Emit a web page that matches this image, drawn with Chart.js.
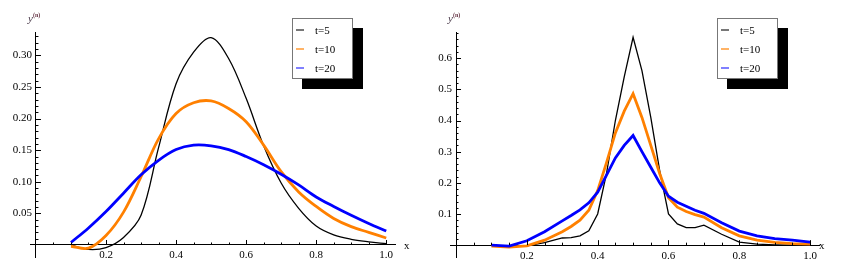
<!DOCTYPE html>
<html>
<head>
<meta charset="utf-8">
<script src="https://cdn.jsdelivr.net/npm/chart.js@4.4.0/dist/chart.umd.min.js"></script>
<style>
  body { margin: 0; background: #fff; width: 845px; height: 268px; overflow: hidden; position: relative;
         font-family: "Liberation Serif", "Times New Roman", serif; }
  .panel { position: absolute; top: 0; height: 268px; }
  .lab { position: absolute; font-size: 11px; line-height: 1; color: #000; white-space: nowrap; }
  .ylab { position: absolute; font-size: 11px; font-style: italic; color: #443344; line-height: 1; }
  .ylab sup { font-size: 6px; font-weight: bold; font-style: normal; vertical-align: 5px; color: #663344; }
  .legend { position: absolute; box-sizing: border-box; width: 61px; height: 61px; background: #fff;
            border: 1px solid #777; box-shadow: 10px 10px 0 #000; }
  .item { position: absolute; left: 0; font-size: 11px; line-height: 1; }
  .item i { position: absolute; left: 3px; top: 4px; width: 8px; height: 2px; }
  .item span { position: absolute; left: 22px; top: 0; white-space: nowrap; }
</style>
</head>
<body>
<div class="panel" style="left:0;width:420px"><canvas id="left" width="420" height="268"></canvas></div>
<div class="panel" style="left:420px;width:425px"><canvas id="right" width="425" height="268"></canvas></div>

<div class="ylab" style="left:28px;top:12px">y<sup>(n)</sup></div>
<div class="ylab" style="left:448px;top:12px">y<sup>(n)</sup></div>
<div class="lab" style="left:404px;top:240px">x</div>
<div class="lab" style="left:819px;top:240px">x</div>

<div class="legend" style="left:292px;top:18px">
  <div class="item" style="top:6px"><i style="background:#777"></i><span>t=5</span></div>
  <div class="item" style="top:25px"><i style="background:#ffb366"></i><span>t=10</span></div>
  <div class="item" style="top:44px"><i style="background:#8080ff"></i><span>t=20</span></div>
</div>
<div class="legend" style="left:717px;top:18px">
  <div class="item" style="top:6px"><i style="background:#777"></i><span>t=5</span></div>
  <div class="item" style="top:25px"><i style="background:#ffb366"></i><span>t=10</span></div>
  <div class="item" style="top:44px"><i style="background:#8080ff"></i><span>t=20</span></div>
</div>

<script>
// left panel
const xLeft   = [0.10, 0.15, 0.20, 0.25, 0.30, 0.35, 0.40, 0.45, 0.50, 0.55, 0.60, 0.65, 0.70, 0.75, 0.80, 0.85, 0.90, 0.95, 1.00];
const left_t5  = [0.000, -0.007, -0.004, 0.012, 0.047, 0.154, 0.255, 0.305, 0.328, 0.295, 0.232, 0.157, 0.098, 0.058, 0.030, 0.016, 0.009, 0.005, 0.002];
const left_t10 = [-0.002, -0.005, 0.015, 0.052, 0.108, 0.168, 0.208, 0.225, 0.228, 0.216, 0.195, 0.158, 0.116, 0.084, 0.061, 0.042, 0.029, 0.020, 0.011];
const left_t20 = [0.004, 0.027, 0.053, 0.082, 0.111, 0.134, 0.151, 0.158, 0.157, 0.151, 0.140, 0.127, 0.112, 0.095, 0.076, 0.061, 0.047, 0.034, 0.022];

// right panel
const xRight   = [0.10, 0.15, 0.20, 0.25, 0.30, 0.325, 0.35, 0.375, 0.40, 0.425, 0.45, 0.475, 0.50, 0.525, 0.55, 0.575, 0.60, 0.625, 0.65, 0.675, 0.70, 0.75, 0.80, 0.85, 0.90, 0.95, 1.00];
const right_t5  = [0.000, -0.004, -0.002, 0.008, 0.023, 0.024, 0.030, 0.046, 0.100, 0.230, 0.400, 0.540, 0.667, 0.560, 0.410, 0.240, 0.100, 0.068, 0.056, 0.056, 0.064, 0.035, 0.010, 0.003, 0.001, 0.000, 0.000];
const right_t10 = [-0.003, -0.006, -0.002, 0.016, 0.043, 0.060, 0.080, 0.112, 0.175, 0.265, 0.360, 0.430, 0.486, 0.410, 0.320, 0.230, 0.152, 0.122, 0.108, 0.098, 0.090, 0.056, 0.030, 0.016, 0.009, 0.005, 0.003];
const right_t20 = [0.000, -0.003, 0.014, 0.043, 0.078, 0.095, 0.113, 0.136, 0.170, 0.225, 0.280, 0.320, 0.352, 0.300, 0.250, 0.200, 0.157, 0.138, 0.125, 0.112, 0.102, 0.072, 0.045, 0.030, 0.021, 0.016, 0.010];

const xTicks = [0.2, 0.4, 0.6, 0.8, 1.0];
const leftYTicks = [0.05, 0.10, 0.15, 0.20, 0.25, 0.30];
const rightYTicks = [0.1, 0.2, 0.3, 0.4, 0.5, 0.6];

const FONT = { family: '"Liberation Serif", "Times New Roman", serif', size: 11 };

// Mathematica-style ticks pointing into the plot, y labels left of the axis
const tickMarks = {
  id: 'tickMarks',
  afterDraw(chart, args, o) {
    const { ctx, scales: { x, y } } = chart;
    const x0 = x.getPixelForValue(0), y0 = y.getPixelForValue(0);
    ctx.save();
    ctx.strokeStyle = '#000';
    ctx.lineWidth = 1;
    ctx.beginPath();
    for (let i = 1; i * o.xMinor <= x.max + 1e-9; i++) {
      const v = i * o.xMinor;
      const major = Math.abs(v / o.xMajor - Math.round(v / o.xMajor)) < 1e-6;
      const px = Math.round(x.getPixelForValue(v)) + 0.5;
      ctx.moveTo(px, y0);
      ctx.lineTo(px, y0 - (major ? 5 : 2.5));
    }
    for (let i = 1; i * o.yMinor <= y.max + 1e-9; i++) {
      const v = i * o.yMinor;
      const major = Math.abs(v / o.yMajor - Math.round(v / o.yMajor)) < 1e-6;
      const py = Math.round(y.getPixelForValue(v)) + 0.5;
      ctx.moveTo(x0, py);
      ctx.lineTo(x0 + (major ? 5 : 2.5), py);
    }
    ctx.stroke();

    ctx.fillStyle = '#000';
    ctx.font = FONT.size + 'px ' + FONT.family;
    ctx.textAlign = 'right';
    ctx.textBaseline = 'middle';
    y.ticks.forEach(t => {
      ctx.fillText(t.value.toFixed(o.digits), x0 - 4, y.getPixelForValue(t.value));
    });
    ctx.restore();
  }
};

function series(xs, ys) {
  return xs.map((v, i) => ({ x: v, y: ys[i] }));
}

function makeChart(id, xs, s5, s10, s20, yr, yTicks, tickOpts, pad, tension) {
  const line = (label, data, color, w) => ({
    label, data: series(xs, data), borderColor: color, borderWidth: w,
    pointRadius: 0, fill: false, tension: tension
  });
  return new Chart(document.getElementById(id), {
    type: 'line',
    data: {
      datasets: [
        line('t=20', s20, '#0000ff', 2.8),
        line('t=10', s10, '#ff8000', 2.8),
        line('t=5', s5, '#000000', 1.3)
      ]
    },
    options: {
      responsive: false,
      animation: false,
      devicePixelRatio: 1,
      layout: { padding: pad },
      plugins: { legend: { display: false }, tooltip: { enabled: false }, tickMarks: tickOpts },
      scales: {
        x: {
          type: 'linear', min: -0.017, max: 1.025, position: { y: 0 },
          grid: { display: false, drawTicks: false },
          border: { display: true, color: '#000', width: 1 },
          ticks: { padding: 4, font: FONT, color: '#000', autoSkip: false, maxRotation: 0,
                   callback: v => v.toFixed(1) },
          afterBuildTicks: s => { s.ticks = xTicks.map(v => ({ value: v })); }
        },
        y: {
          type: 'linear', min: yr[0], max: yr[1], position: { x: 0 },
          grid: { display: false, drawTicks: false },
          border: { display: true, color: '#000', width: 1 },
          ticks: { display: false },
          afterBuildTicks: s => { s.ticks = yTicks.map(v => ({ value: v })); }
        }
      }
    },
    plugins: [tickMarks]
  });
}

makeChart('left', xLeft, left_t5, left_t10, left_t20, [-0.019, 0.337], leftYTicks,
  { xMinor: 0.05, xMajor: 0.2, yMinor: 0.01, yMajor: 0.05, digits: 2 },
  { left: 30, right: 25, top: 32, bottom: 11 }, 0.35);

makeChart('right', xRight, right_t5, right_t10, right_t20, [-0.038, 0.684], rightYTicks,
  { xMinor: 0.05, xMajor: 0.2, yMinor: 0.02, yMajor: 0.1, digits: 1 },
  { left: 30, right: 26, top: 32, bottom: 11 }, 0);
</script>
</body>
</html>
